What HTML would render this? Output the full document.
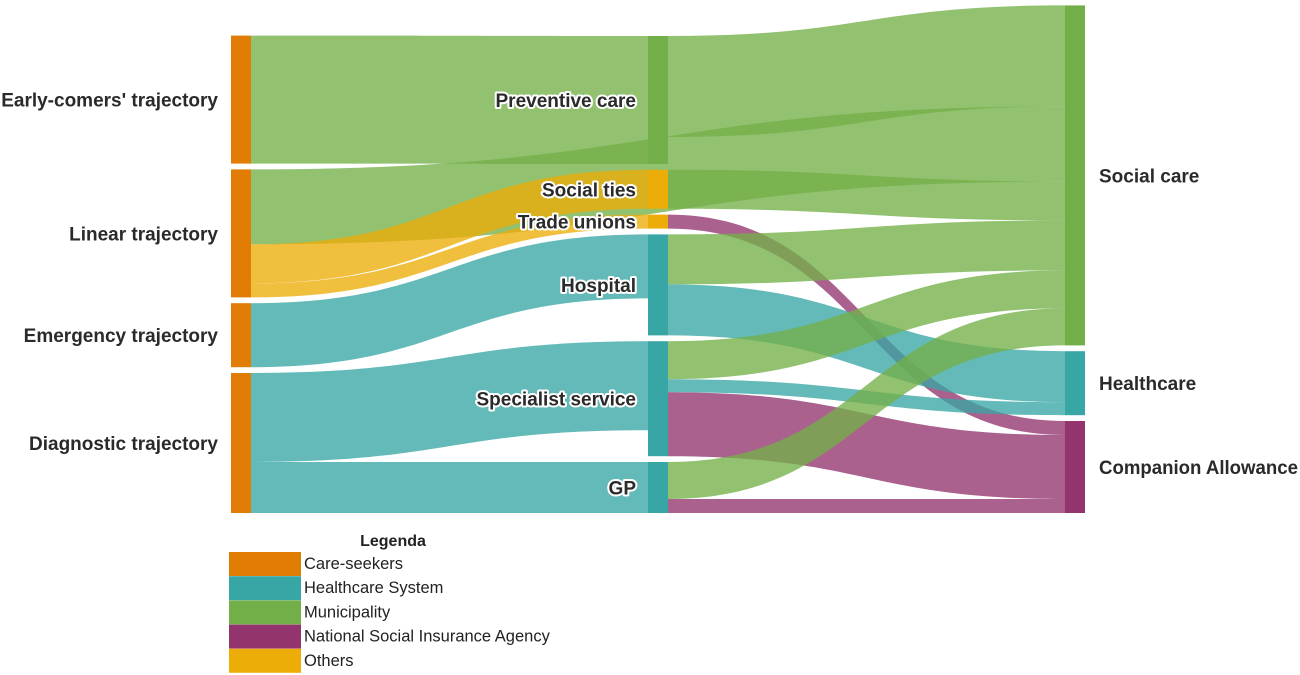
<!DOCTYPE html>
<html><head><meta charset="utf-8"><style>
html,body{margin:0;padding:0;background:#fff;width:1300px;height:675px;overflow:hidden}
svg text{font-family:"Liberation Sans",sans-serif}
.lbl{font-weight:bold;font-size:19px;fill:#2a2a2a;stroke:#fff;stroke-width:4px;paint-order:stroke;stroke-linejoin:round}
.leg{font-size:16.5px;fill:#222}
</style></head><body>
<svg id="chart" width="1300" height="675" xmlns="http://www.w3.org/2000/svg">
<g id="links"></g>
<g id="nodes"></g>
<g id="labels"></g>
<g id="legend"></g>
</svg>
<script>
const nodeNames = ["Early-comers' trajectory","Linear trajectory","Emergency trajectory","Diagnostic trajectory","Preventive care","Social ties","Trade unions","Hospital","Specialist service","GP","Social care","Healthcare","Companion Allowance"];
const nodeColumns = [0,0,0,0,1,1,1,1,1,1,2,2,2];
const nodeGroups = [0,0,0,0,2,4,4,1,1,1,2,1,3];
const linkSources = [0,1,1,1,2,3,3,4,5,6,7,7,8,8,8,9,9];
const linkTargets = [4,10,5,6,7,8,9,10,10,12,10,11,10,11,12,10,12];
const linkValues = [128,75,39,14,64,89,51,101,39,14,50,51,38,13,64,37,14];
const groupNames = ["Care-seekers","Healthcare System","Municipality","National Social Insurance Agency","Others"];
const groupColors = ["#E17C05","#38A6A5","#73AF48","#94346E","#EDAD08"];

const NS="http://www.w3.org/2000/svg";
const colX=[231,648,1065], nodeW=20, bottom=513, gap=5.8, scale=1;
const inSum=nodeNames.map(()=>0), outSum=nodeNames.map(()=>0);
linkValues.forEach((v,i)=>{outSum[linkSources[i]]+=v;inSum[linkTargets[i]]+=v;});
const h=nodeNames.map((n,i)=>Math.max(inSum[i],outSum[i])*scale);
const y0=[];
[0,1,2].forEach(c=>{
  const idx=nodeNames.map((n,i)=>i).filter(i=>nodeColumns[i]===c);
  let tot=idx.reduce((s,i)=>s+h[i],0)+gap*(idx.length-1);
  let y=bottom-tot;
  idx.forEach(i=>{y0[i]=y;y+=h[i]+gap;});
});
function mk(tag,attrs,parent){const e=document.createElementNS(NS,tag);for(const k in attrs)e.setAttribute(k,attrs[k]);parent.appendChild(e);return e;}
const idxs=linkValues.map((v,i)=>i);
const ya=[], yb=[];
const outOff=y0.slice(), inOff=y0.slice();
idxs.slice().sort((a,b)=>y0[linkTargets[a]]-y0[linkTargets[b]]).forEach(i=>{ya[i]=outOff[linkSources[i]];outOff[linkSources[i]]+=linkValues[i]*scale;});
idxs.slice().sort((a,b)=>y0[linkSources[a]]-y0[linkSources[b]]).forEach(i=>{yb[i]=inOff[linkTargets[i]];inOff[linkTargets[i]]+=linkValues[i]*scale;});
const gl=document.getElementById('links');
linkValues.forEach((v,i)=>{
  const s=linkSources[i],t=linkTargets[i],w=v*scale;
  const xa=colX[nodeColumns[s]]+nodeW, xb=colX[nodeColumns[t]];
  const a=ya[i], b=yb[i];
  const xm=(xa+xb)/2;
  const d=`M${xa},${a} C${xm},${a} ${xm},${b} ${xb},${b} L${xb},${b+w} C${xm},${b+w} ${xm},${a+w} ${xa},${a+w} Z`;
  const p=mk('path',{d:d,fill:groupColors[nodeGroups[t]],'fill-opacity':0.78},gl);
  
  
});
const gn=document.getElementById('nodes'), gt=document.getElementById('labels');
nodeNames.forEach((n,i)=>{
  const c=nodeColumns[i];
  const r=mk('rect',{x:colX[c],y:y0[i],width:nodeW,height:h[i],fill:groupColors[nodeGroups[i]]},gn);
  
  
  const ty=y0[i]+h[i]/2+7;
  const tx=c===0?218:(c===1?636:1099);
  const t=mk('text',{x:tx,y:ty,class:'lbl','text-anchor':c===2?'start':'end'},gt);
  if(c===2&&n.length>15){t.setAttribute('textLength','199');t.setAttribute('lengthAdjust','spacingAndGlyphs');}
  t.textContent=n;
  
  
});
const lg=document.getElementById('legend');
const lt=mk('text',{x:393,y:546,'text-anchor':'middle','font-weight':'bold','font-size':'16px',fill:'#222'},lg);
lt.textContent='Legenda';


groupNames.forEach((g,i)=>{
  const y=552+i*24.2;
  const r=mk('rect',{x:229,y:y,width:72,height:24,fill:groupColors[i]},lg);
  
  
  const t=mk('text',{x:304,y:y+17,class:'leg'},lg);
  t.textContent=g;
  
  
});
</script>
</body></html>
